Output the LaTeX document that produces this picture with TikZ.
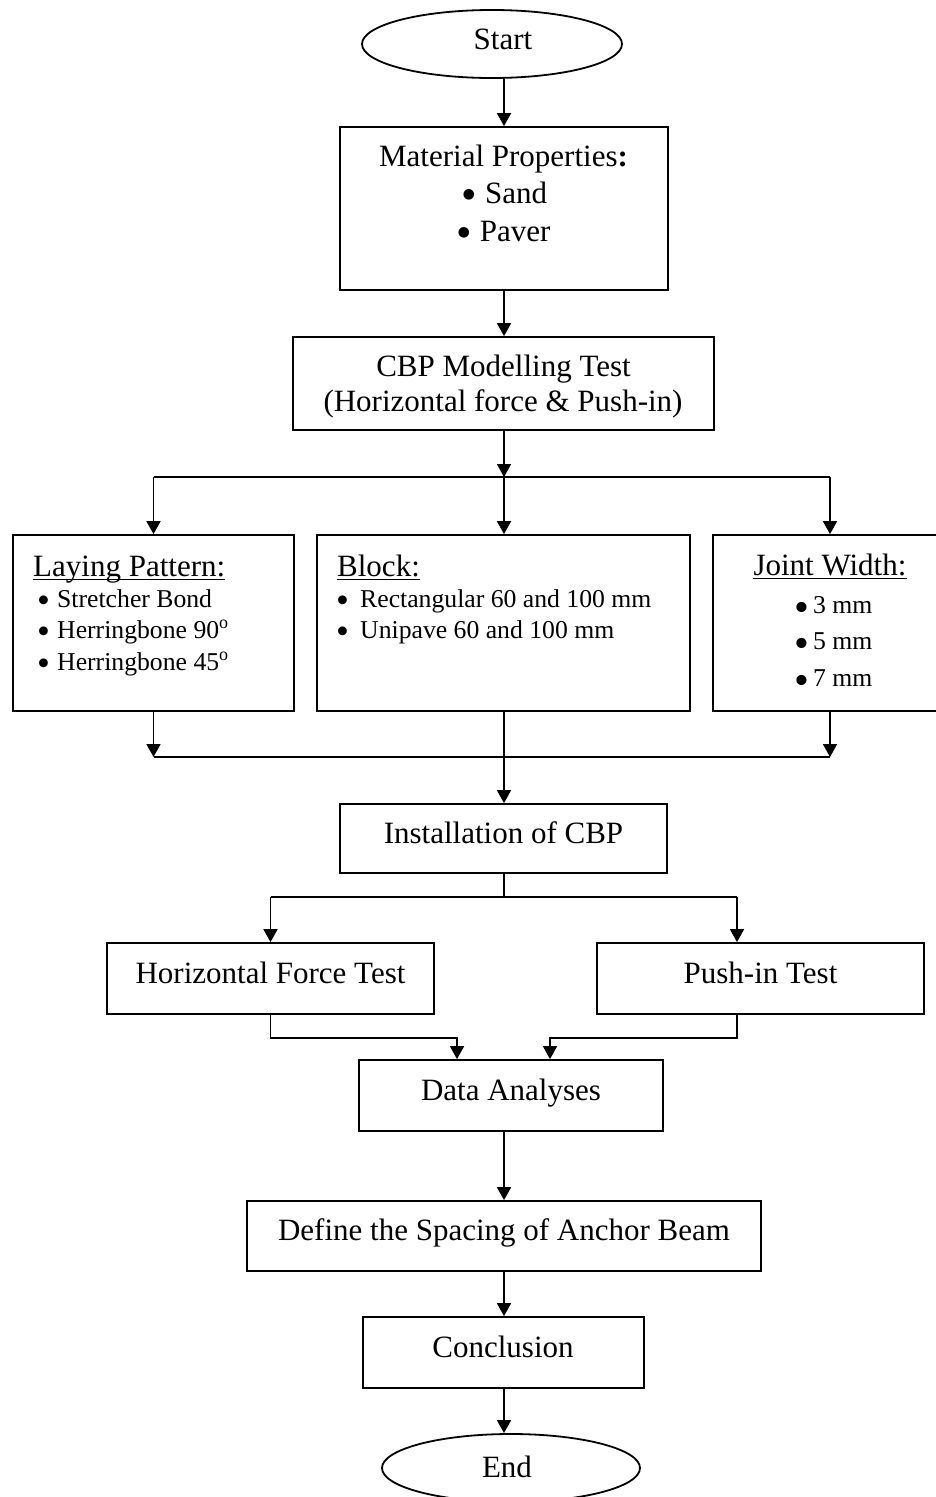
\documentclass[tikz,border=0pt]{standalone}
\usepackage{fontspec}
\setmainfont{Liberation Serif}
\usetikzlibrary{arrows.meta,shapes.geometric}
% enlarged round bullet that sits low, like a Symbol-font bullet
% #1 = scale, #2 = how far it is lowered
\newcommand\bul[2][1.43]{\raisebox{-#2}[0pt][0pt]{\scalebox{#1}{\textbullet}}}
\begin{document}
\begin{tikzpicture}[x=1pt,y=-1pt,
  box/.style={draw, rectangle, inner sep=0pt, line width=1.8pt},
  oval/.style={draw, ellipse, inner sep=0pt, line width=1.8pt},
  big/.style={font=\fontsize{31}{37}\selectfont, inner sep=0pt, anchor=base},
  small/.style={font=\fontsize{25.7}{31}\selectfont, inner sep=0pt, anchor=base west},
  arr/.style={-{Triangle[length=13pt,width=14pt]}, line width=1.8pt},
  wire/.style={line width=1.8pt},
  uline/.style={line width=1.6pt}]
\useasboundingbox (0,0) rectangle (936,1497);
\clip (0,0) rectangle (936,1497);

% ---------- frames ----------
\node[oval, minimum width=260pt, minimum height=68pt] (start) at (492,44) {};
\node[box, minimum width=328pt, minimum height=163pt] (mat) at (504,208.5) {};
\node[box, minimum width=421pt, minimum height=93pt] (cbp) at (503.5,383.5) {};
\node[box, minimum width=281pt, minimum height=176pt] (lay) at (153.5,623) {};
\node[box, minimum width=373pt, minimum height=176pt] (block) at (503.5,623) {};
\node[box, minimum width=234pt, minimum height=176pt] (joint) at (830,623) {};
\node[box, minimum width=327pt, minimum height=69pt] (inst) at (503.5,838.5) {};
\node[box, minimum width=327pt, minimum height=71pt] (hft) at (270.5,978.5) {};
\node[box, minimum width=327pt, minimum height=71pt] (push) at (760.5,978.5) {};
\node[box, minimum width=304pt, minimum height=71pt] (data) at (511,1095.5) {};
\node[box, minimum width=514pt, minimum height=70pt] (def) at (504,1236) {};
\node[box, minimum width=281pt, minimum height=71pt] (conc) at (503.5,1352.5) {};
\node[oval, minimum width=258pt, minimum height=68pt] (finish) at (511,1468) {};

% ---------- texts ----------
\node[big] (startT) at (503,49) {Start};
\node[big] (matT1) at (503.5,166) {Material Properties\textbf{:}};
\node[big] (matT2) at (504.5,203) {\bul{0.2em}\ Sand};
\node[big] (matT3) at (503.5,241) {\bul{0.2em}\ Paver};
\node[big] (cbpT1) at (503.5,376) {CBP Modelling Test};
\node[big] (cbpT2) at (503,411) {(Horizontal force \& Push-in)};

\node[big, anchor=base west] (layT) at (33,576) {Laying Pattern:};
\draw[uline] ([yshift=-3.5pt]layT.base west) -- ([yshift=-3.5pt]layT.base east);
\node[small] (lay1) at (37,607) {\makebox[20pt][l]{\bul{0.2em}}Stretcher Bond};
\node[small] (lay2) at (37,638) {\makebox[20pt][l]{\bul{0.2em}}Herringbone 90\textsuperscript{o}};
\node[small] (lay3) at (37,670) {\makebox[20pt][l]{\bul{0.2em}}Herringbone 45\textsuperscript{o}};

\node[big, anchor=base west] (blkT) at (337,576) {Block:};
\draw[uline] ([yshift=-3.5pt]blkT.base west) -- ([yshift=-3.5pt]blkT.base east);
\node[small] (blk1) at (336,607) {\makebox[24pt][l]{\bul{0.2em}}Rectangular 60 and 100 mm};
\node[small] (blk2) at (336,638) {\makebox[24pt][l]{\bul{0.2em}}Unipave 60 and 100 mm};

\node[big] (jntT) at (830,575) {Joint Width:};
\draw[uline] ([yshift=-3.5pt]jntT.base west) -- ([yshift=-3.5pt]jntT.base east);
\node[small] (jnt1) at (794,613) {\makebox[19pt][l]{\bul[1.65]{0.33em}}3 mm};
\node[small] (jnt2) at (794,649) {\makebox[19pt][l]{\bul[1.65]{0.33em}}5 mm};
\node[small] (jnt3) at (794,686) {\makebox[19pt][l]{\bul[1.65]{0.33em}}7 mm};

\node[big] (instT) at (503.5,843) {Installation of CBP};
\node[big] (hftT) at (270.5,983) {Horizontal Force Test};
\node[big] (pushT) at (760.5,983) {Push-in Test};
\node[big] (dataT) at (511,1100) {Data Analyses};
\node[big] (defT) at (504,1240) {Define the Spacing of Anchor Beam};
\node[big] (concT) at (503,1357) {Conclusion};
\node[big] (endT) at (507,1477) {End};

% ---------- junction points ----------
\coordinate (split) at (504,477);
\coordinate (merge) at (504,757);
\coordinate (fork) at (504,897);
\coordinate (forkL) at (hft.north |- fork);
\coordinate (forkR) at ([xshift=-23.5pt]push.north |- fork);
\coordinate (pushIn) at ([xshift=-23.5pt]push.north);
\coordinate (pushOut) at ([xshift=-23.5pt]push.south);
\coordinate (dinL) at ([xshift=-54pt]data.north);
\coordinate (dinR) at ([xshift=39pt]data.north);

% ---------- connectors ----------
\draw[arr] (mat.north |- start.south) -- (mat.north);
\draw[arr] (mat.south) -- (mat.south |- cbp.north);
\draw[arr] (cbp.south -| split) -- (split);
\draw[wire] (split -| lay.north) -- (split -| joint.north);
\draw[arr] (split -| lay.north) -- (lay.north);
\draw[arr] (split) -- (split |- block.north);
\draw[arr] (split -| joint.north) -- (joint.north);

\draw[arr] (lay.south) -- (lay.south |- merge);
\draw[arr] (joint.south) -- (joint.south |- merge);
\draw[wire] (lay.south |- merge) -- (joint.south |- merge);
\draw[arr] (merge |- block.south) -- (merge |- inst.north);

\draw[wire] (fork |- inst.south) -- (fork);
\draw[wire] (forkL) -- (forkR);
\draw[arr] (forkL) -- (hft.north);
\draw[arr] (forkR) -- (pushIn);

\draw[arr] (hft.south) -- ++(0,23) -| (dinL);
\draw[arr] (pushOut) -- ++(0,23) -| (dinR);

\draw[arr] (def.north |- data.south) -- (def.north);
\draw[arr] (def.south) -- (def.south |- conc.north);
\draw[arr] (def.south |- conc.south) -- (def.south |- finish.north);
\end{tikzpicture}
\end{document}
